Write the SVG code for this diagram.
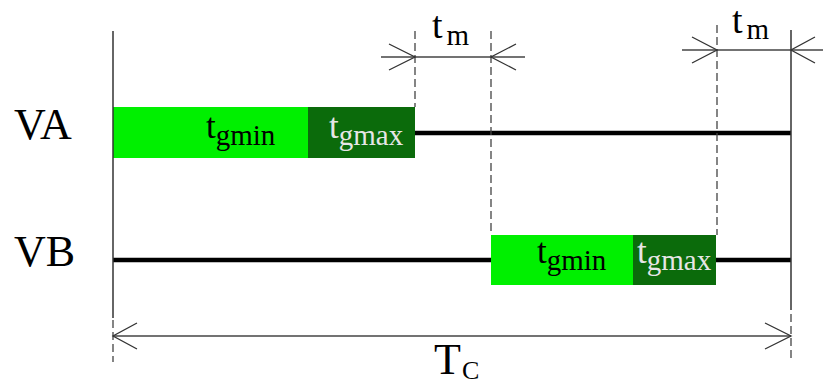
<svg xmlns="http://www.w3.org/2000/svg" width="823" height="384" viewBox="0 0 823 384">
<defs>
<style>
.lbl{font-family:"Liberation Serif","Times New Roman",serif;fill:#000}
.big{font-size:44px}
.t{font-size:35px}
.tm{font-size:38px}
.sub{font-size:29px}
.subc{font-size:26px}
.lt{fill:#e6e6e6}
.sig{stroke:#000;stroke-width:4.5;fill:none}
.dim{stroke:#444;stroke-width:1.3;fill:none}
.dash{stroke:#444;stroke-width:1.3;stroke-dasharray:8 4;fill:none}
.solid{stroke:#333;stroke-width:1.5;fill:none}
.ah{stroke:#333;stroke-width:1.3;fill:none}
.g1{fill:#00f000}
.g2{fill:#0b6b0b}
</style>
</defs>
<rect width="823" height="384" fill="#fff"/>

<g id="labels">
<text class="lbl big" x="14" y="139">VA</text>
<text class="lbl big" x="14" y="266">VB</text>
</g>

<g id="VA">
<rect class="g1" x="113" y="107" width="195" height="51"/>
<rect class="g2" x="308" y="107" width="107" height="51"/>
<text class="lbl" x="206" y="138"><tspan class="t">t</tspan><tspan class="sub" y="145">gmin</tspan></text>
<text class="lbl lt" x="329" y="138"><tspan class="t">t</tspan><tspan class="sub" y="145">gmax</tspan></text>
<line class="sig" x1="415" y1="133" x2="791" y2="133"/>
</g>

<g id="VB">
<line class="sig" x1="113" y1="260" x2="491" y2="260"/>
<rect class="g1" x="491" y="235" width="142" height="50"/>
<rect class="g2" x="633" y="235" width="83" height="50"/>
<text class="lbl" x="537" y="263"><tspan class="t">t</tspan><tspan class="sub" y="270">gmin</tspan></text>
<text class="lbl lt" x="637" y="263"><tspan class="t">t</tspan><tspan class="sub" y="270">gmax</tspan></text>
<line class="sig" x1="716" y1="260" x2="791" y2="260"/>
</g>

<g id="connectors">
<line class="solid" x1="113" y1="31" x2="113" y2="318"/>
<line class="dash" x1="113" y1="320" x2="113" y2="362"/>
<line class="solid" x1="791" y1="30" x2="791" y2="310"/>
<line class="dash" x1="791" y1="314" x2="791" y2="362"/>
<line class="dash" x1="415" y1="31" x2="415" y2="107"/>
<line class="dash" x1="491" y1="31" x2="491" y2="235"/>
<line class="dash" x1="717" y1="25" x2="717" y2="235"/>
<line class="dim" x1="381" y1="57" x2="525" y2="57"/>
<polyline class="ah" points="389,44 415,57 389,70"/>
<polyline class="ah" points="516,44 491,57 516,70"/>
<line class="dim" x1="682" y1="50" x2="823" y2="50"/>
<polyline class="ah" points="692,37 717,50 692,63"/>
<polyline class="ah" points="815,37 791,50 815,63"/>
<line class="dim" x1="113" y1="336" x2="791" y2="336" stroke="#777"/>
<polyline class="ah" points="137,323 113,336 137,349"/>
<polyline class="ah" points="765,323 791,336 765,349"/>
</g>

<g id="dimlabels">
<text class="lbl" x="432" y="38"><tspan class="tm">t</tspan><tspan class="sub" dx="4" y="45">m</tspan></text>
<text class="lbl" x="732" y="33"><tspan class="tm">t</tspan><tspan class="sub" dx="4" y="39">m</tspan></text>
<text class="lbl" x="434" y="374"><tspan class="big">T</tspan><tspan class="subc" dx="1" y="379">C</tspan></text>
</g>
</svg>
